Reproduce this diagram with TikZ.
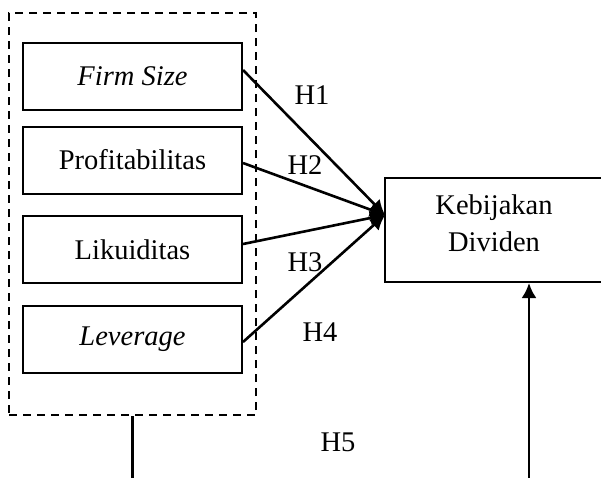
\documentclass[tikz,border=0pt]{standalone}
\usepackage{fontspec}
\setmainfont{Liberation Serif}
\usetikzlibrary{arrows.meta}
\begin{document}
\begin{tikzpicture}[x=1pt,y=-1pt,
  every node/.style={font=\fontsize{28.5}{37}\selectfont},
  varbox/.style={draw,line width=2pt,minimum width=219pt,minimum height=67pt,inner sep=0pt},
  grpbox/.style={draw,line width=2pt,dash pattern=on 8pt off 6pt,minimum width=247pt,minimum height=402pt,inner sep=0pt},
  outbox/.style={draw,line width=2pt,minimum width=235pt,minimum height=104pt,inner sep=0pt},
  conn/.style={line width=2.6pt,-{Latex[length=15pt,width=15pt]}},
  plain/.style={line width=2.6pt},
  hlab/.style={inner sep=0pt}]
\useasboundingbox (0,0) rectangle (601,477);
\clip (0,0) rectangle (601,477);
\fill[white] (0,0) rectangle (601,477);
\node[grpbox] (grp) at (132.5,214) {};
\node[varbox] (fs) at (132.5,76.5) {\itshape Firm Size};
\node[varbox] (pr) at (132.5,160) {Profitabilitas};
\node[varbox] (lk) at (132.5,249.5) {Likuiditas};
\node[varbox] (lv) at (132.5,339.5) {\itshape Leverage};
\node[outbox] (kd) at (502.5,230) {};
\node[align=center,inner sep=0pt] (kdt) at (494,223) {Kebijakan\\Dividen};
\coordinate (tgt) at (385,215);
\draw[conn] ([yshift=6.5pt]fs.east) -- (tgt);
\draw[conn] ([yshift=-3pt]pr.east) -- (tgt);
\draw[conn] ([yshift=5.5pt]lk.east) -- (tgt);
\draw[conn] ([yshift=-2.5pt]lv.east) -- (tgt);
\node[hlab] (h1) at (312,95) {H1};
\node[hlab] (h2) at (305,165) {H2};
\node[hlab] (h3) at (305,262) {H3};
\node[hlab] (h4) at (320,332) {H4};
\node[hlab] (h5) at (338,442) {H5};
\coordinate (b1) at (132.5,480);
\coordinate (b2) at (529,480);
\draw[plain] (grp.south) -- (b1);
\draw[conn] (b2) -- (b2 |- kd.south);
\end{tikzpicture}
\end{document}
